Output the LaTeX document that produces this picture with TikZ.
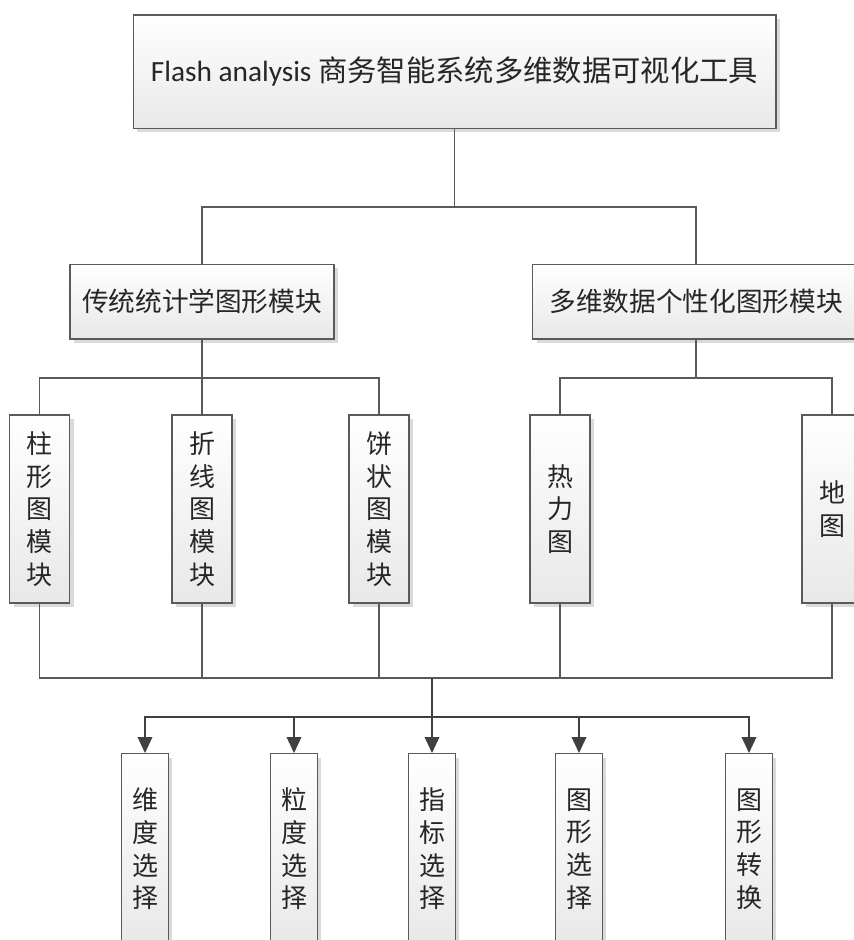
\documentclass[tikz,border=0pt]{standalone}
\usepackage{fontspec}
\setmainfont{Carlito}
\newfontfamily\cjk{Noto Sans CJK SC}
\usetikzlibrary{arrows.meta,shadows}

\definecolor{edge}{HTML}{5A5A5A}
\definecolor{tipc}{HTML}{404040}
\definecolor{shade}{HTML}{DADADA}

\tikzset{
  box/.style={draw=edge, line width=1pt, top color=white, bottom color=black!9,
    drop shadow={shadow xshift=3pt, shadow yshift=-3pt, fill=shade, opacity=1},
    inner sep=0pt, align=center, text=black!85},
  topbox/.style={box, minimum width=482pt, minimum height=85pt,
    font=\fontsize{22}{26}\selectfont},
  midbox/.style={box, minimum width=198pt, minimum height=56pt,
    font=\cjk\fontsize{20}{24}\selectfont},
  vbox/.style={box, minimum width=45pt, minimum height=141pt,
    font=\cjk\fontsize{19.5}{24.5}\selectfont},
  sbox/.style={box, minimum width=35pt, minimum height=143pt,
    font=\cjk\fontsize{19.5}{24.5}\selectfont},
  link/.style={draw=edge, line width=1pt},
  arr/.style={link, -{Triangle[width=11pt,length=12pt]}, tipc}
}

\begin{document}
\begin{tikzpicture}[x=0.75pt, y=-0.75pt]
  \clip (0,0) rectangle (854,940);
  \useasboundingbox (0,0) rectangle (854,940);
  \fill[white] (0,0) rectangle (854,940);

  % root
  \node[topbox] (root) at (454.5,71.5) {Flash analysis {\cjk 商务智能系统多维数据可视化工具}};

  % second level
  \node[midbox] (trad) at (202,301.5) {传统统计学图形模块};
  \node[midbox, minimum width=245pt] (multi) at (696,301.5) {多维数据个性化图形模块};

  % chart modules
  \node[vbox] (zhu)  at (39.5,509) {柱\\形\\图\\模\\块};
  \node[vbox] (zhe)  at (202,509)  {折\\线\\图\\模\\块};
  \node[vbox] (bing) at (379,509)  {饼\\状\\图\\模\\块};
  \node[vbox] (re)   at (560,509)  {热\\力\\图};
  \node[vbox] (di)   at (832,509)  {地\\图};

  % operations
  \node[sbox] (wei)  at (145,849) {维\\度\\选\\择};
  \node[sbox] (li)   at (294,849) {粒\\度\\选\\择};
  \node[sbox] (zhi)  at (432,849) {指\\标\\选\\择};
  \node[sbox] (txxz) at (579,849) {图\\形\\选\\择};
  \node[sbox] (txzh) at (749,849) {图\\形\\转\\换};

  % junction points
  \coordinate (j1) at (454.5,207);
  \coordinate (j2) at (202,378);
  \coordinate (j3) at (696,378);
  \coordinate (j4) at (432,678);
  \coordinate (j5) at (432,717);

  % root to second level
  \draw[link] (root.south) -- (j1);
  \draw[link] (trad.north) |- (j1);
  \draw[link] (multi.north) |- (j1);

  % second level to chart modules
  \draw[link] (trad.south) -- (zhe.north);
  \draw[link] (zhu.north) |- (j2);
  \draw[link] (bing.north) |- (j2);
  \draw[link] (multi.south) -- (j3);
  \draw[link] (re.north) |- (j3);
  \draw[link] (di.north) |- (j3);

  % chart modules merge into a common bus
  \foreach \n in {zhu,zhe,bing,re,di}
    \draw[link] (\n.south) |- (j4);

  % bus to operations
  \draw[arr] (j4) -- (zhi.north);
  \foreach \n in {wei,li,txxz,txzh}
    \draw[arr] (j5) -| (\n.north);
\end{tikzpicture}
\end{document}
